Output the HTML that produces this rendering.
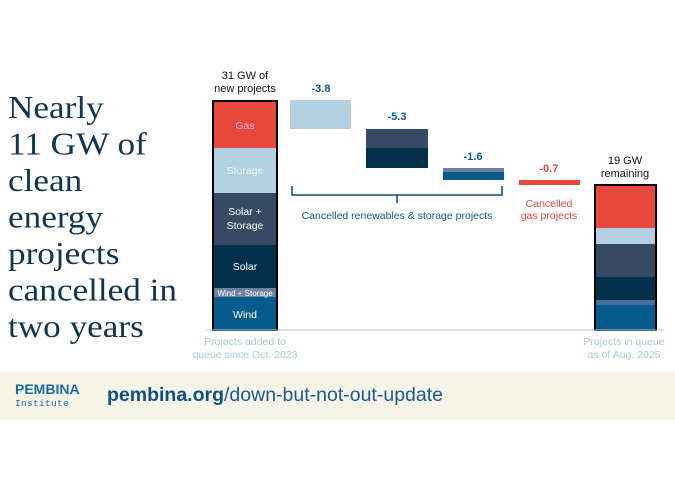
<!DOCTYPE html>
<html><head><meta charset="utf-8"><style>
html,body{margin:0;padding:0;background:#fff;width:675px;height:485px;overflow:hidden}
svg{display:block}
</style></head><body>
<svg width="675" height="485" viewBox="0 0 675 485" xmlns="http://www.w3.org/2000/svg" font-family="Liberation Sans, sans-serif">
<rect width="675" height="485" fill="#fff"/>
<g font-family="Liberation Serif, serif" font-size="32" fill="#0f3550" transform="translate(8,0) scale(1.1,1)">
<text x="0" y="118">Nearly</text>
<text x="0" y="154.5">11 GW of</text>
<text x="0" y="191">clean</text>
<text x="0" y="227.5">energy</text>
<text x="0" y="264">projects</text>
<text x="0" y="300.5">cancelled in</text>
<text x="0" y="337">two years</text>
</g>
<!-- left bar -->
<rect x="212" y="100" width="66" height="231" fill="#000"/>
<rect x="214" y="102" width="62" height="46" fill="#e8473c"/>
<rect x="214" y="148" width="62" height="45" fill="#b3d0e0"/>
<rect x="214" y="193" width="62" height="52" fill="#364a63"/>
<rect x="214" y="245" width="62" height="43" fill="#03304a"/>
<rect x="214" y="288" width="62" height="9" fill="#6e80a0"/>
<rect x="214" y="297" width="62" height="33" fill="#075a8c"/>
<g font-size="10.5" fill="#fff" text-anchor="middle">
<text x="245" y="129" fill="#fbd">Gas</text>
<text x="245" y="174" fill="#eef6fa">Storage</text>
<text x="245" y="215">Solar +</text>
<text x="245" y="229">Storage</text>
<text x="245" y="270">Solar</text>
<text x="245" y="296" font-size="8">Wind + Storage</text>
<text x="245" y="318">Wind</text>
</g>
<g font-size="11" fill="#111" text-anchor="middle">
<text x="245" y="79">31 GW of</text>
<text x="245" y="92">new projects</text>
<text x="625" y="164">19 GW</text>
<text x="625" y="177">remaining</text>
</g>
<!-- waterfall -->
<rect x="290" y="100" width="61" height="29" fill="#b3d0e0"/>
<rect x="366" y="129" width="62" height="19" fill="#364a63"/>
<rect x="366" y="148" width="62" height="20" fill="#03304a"/>
<rect x="443" y="168" width="61" height="4" fill="#6e80a0"/>
<rect x="443" y="172" width="61" height="8" fill="#075a8c"/>
<rect x="519" y="180" width="61" height="5" fill="#e8473c"/>
<g font-size="11" font-weight="bold" text-anchor="middle" fill="#0d5a8a">
<text x="321" y="92">-3.8</text>
<text x="397" y="120">-5.3</text>
<text x="473" y="160">-1.6</text>
<text x="549" y="172" fill="#e8473c">-0.7</text>
</g>
<path d="M292 186 V195 H502 V186 M397 195 V203" fill="none" stroke="#0d4a78" stroke-width="1.5"/>
<text x="397" y="219" font-size="10.5" fill="#0d5a8a" text-anchor="middle">Cancelled renewables &amp; storage projects</text>
<text x="549" y="207" font-size="10.5" fill="#e8473c" text-anchor="middle">Cancelled</text>
<text x="549" y="219" font-size="10.5" fill="#e8473c" text-anchor="middle">gas projects</text>
<!-- right bar -->
<rect x="594" y="184" width="63" height="147" fill="#000"/>
<rect x="596" y="186" width="59" height="42" fill="#e8473c"/>
<rect x="596" y="228" width="59" height="16" fill="#b3d0e0"/>
<rect x="596" y="244" width="59" height="33" fill="#364a63"/>
<rect x="596" y="277" width="59" height="23" fill="#03304a"/>
<rect x="596" y="300" width="59" height="5" fill="#4a6f9a"/>
<rect x="596" y="305" width="59" height="25" fill="#075a8c"/>
<line x1="207" y1="330" x2="664" y2="330" stroke="#a9c8dc" stroke-width="1"/>
<g font-size="10.5" fill="#a9c8dc" text-anchor="middle">
<text x="245" y="345">Projects added to</text>
<text x="245" y="358">queue since Oct. 2023</text>
<text x="624" y="345">Projects in queue</text>
<text x="624" y="358">as of Aug. 2025</text>
</g>
<!-- footer -->
<rect x="0" y="372" width="675" height="48" fill="#f6f3e7"/>
<text x="15" y="394" font-size="14" font-weight="bold" fill="#1b6aa8">PEMBINA</text>
<text x="15" y="406" font-size="9.5" fill="#1b6aa8" font-family="Liberation Mono, monospace" letter-spacing="0.3">Institute</text>
<text x="107" y="401" font-size="19.5" fill="#1b5a8e"><tspan font-weight="bold" fill="#0f4f86">pembina.org</tspan>/down-but-not-out-update</text>
</svg>
</body></html>
